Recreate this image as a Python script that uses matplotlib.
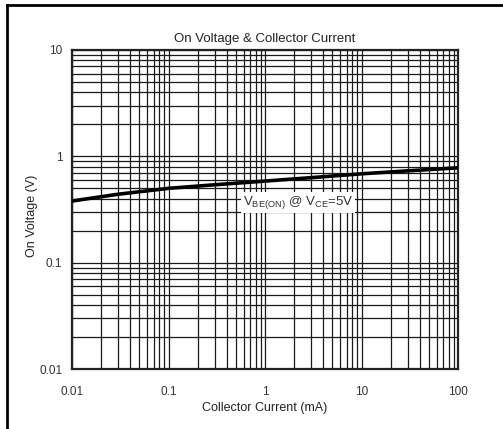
import matplotlib
matplotlib.use('Agg')
import matplotlib.pyplot as plt
from matplotlib.lines import Line2D
from matplotlib.ticker import LogLocator, NullFormatter, FixedLocator
import numpy as np

plt.rcParams['font.family'] = ['Liberation Sans', 'DejaVu Sans']
plt.rcParams['mathtext.fontset'] = 'custom'
plt.rcParams['mathtext.rm'] = 'Liberation Sans'

current_mA = [0.01, 0.03, 0.1, 0.3, 1, 3, 10, 30, 100]
von_V = [0.38, 0.44, 0.50, 0.54, 0.585, 0.63, 0.685, 0.73, 0.78]
x_ticks = [0.01, 0.1, 1, 10, 100]
x_labels = ['0.01', '0.1', '1', '10', '100']
y_ticks = [0.01, 0.1, 1, 10]
y_labels = ['0.01', '0.1', '1', '10']

W, H = 503, 429
fig = plt.figure(figsize=(W / 100, H / 100), dpi=100)
ax = fig.add_axes([72 / W, 1 - 369 / H, (458 - 72) / W, (369 - 50) / H])

ax.set_xscale('log')
ax.set_yscale('log')
ax.set_xlim(0.01, 100)
ax.set_ylim(0.01, 10)

ax.xaxis.set_major_locator(FixedLocator(x_ticks))
ax.yaxis.set_major_locator(FixedLocator(y_ticks))
ax.set_xticklabels(x_labels)
ax.set_yticklabels(y_labels)
ax.xaxis.set_minor_locator(LogLocator(base=10, subs=np.arange(2, 10)))
ax.yaxis.set_minor_locator(LogLocator(base=10, subs=np.arange(2, 10)))
ax.xaxis.set_minor_formatter(NullFormatter())
ax.yaxis.set_minor_formatter(NullFormatter())
ax.tick_params(which='both', length=0, labelsize=8.5, colors='#333333')
ax.tick_params(axis='x', pad=12)
ax.tick_params(axis='y', pad=7)

ax.grid(True, which='both', color='#1a1a1a', linewidth=0.9)
for s in ax.spines.values():
    s.set_linewidth(1.6)
    s.set_color('#222222')

ax.plot(current_mA, von_V, color='black', linewidth=2.6, zorder=3)

ax.text(2.2, 0.365, r'V$_{\rm BE(ON)}$ @ V$_{\rm CE}$=5V', fontsize=9.5, color='#333333',
        ha='center', va='center', zorder=4,
        bbox=dict(facecolor='white', edgecolor='none', pad=1.5))

ax.set_title('On Voltage & Collector Current', fontsize=9.5, color='#222222', pad=6)
ax.set_xlabel('Collector Current (mA)', fontsize=9, color='#222222', labelpad=3)
ax.set_ylabel('On Voltage (V)', fontsize=9, color='#222222')
ax.yaxis.set_label_coords((38 - 72) / (458 - 72), 0.48)

# outer frame (only top and left edge visible)
fig.add_artist(Line2D([7 / W, 7 / W], [0, 1 - 5 / H], color='black', linewidth=2, transform=fig.transFigure))
fig.add_artist(Line2D([7 / W, 1], [1 - 5 / H, 1 - 5 / H], color='black', linewidth=2, transform=fig.transFigure))

fig.savefig('out.png', dpi=100)
